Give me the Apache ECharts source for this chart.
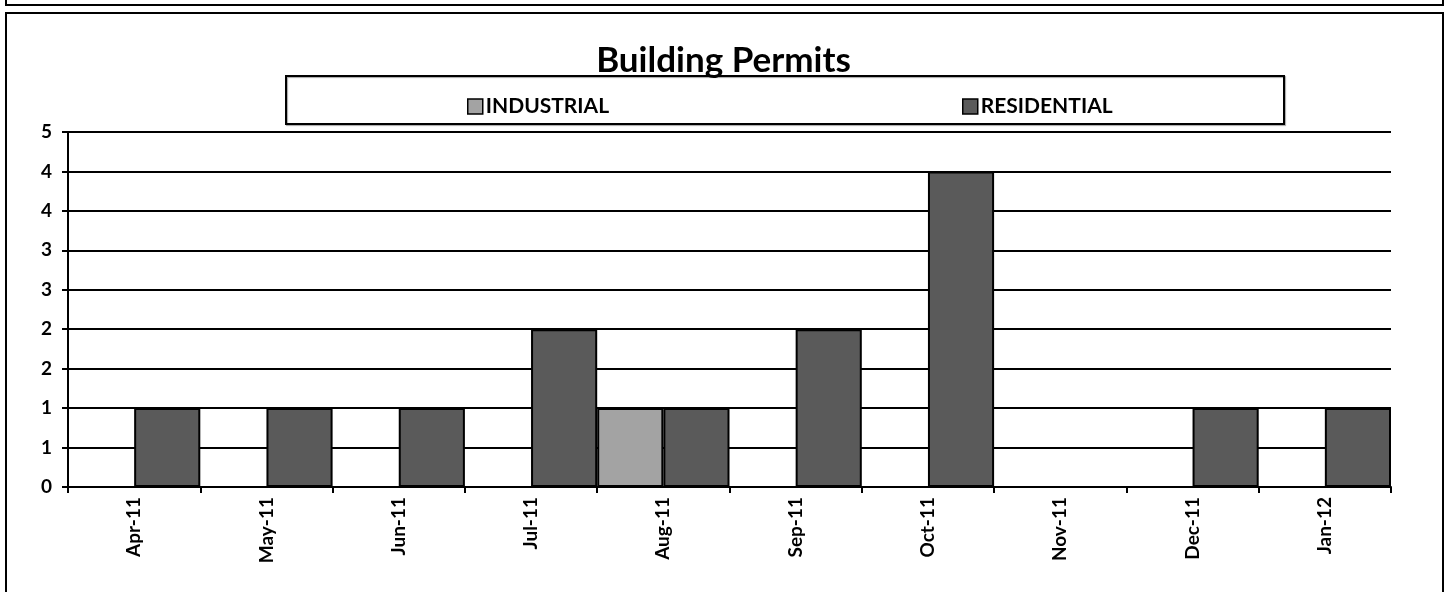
<!DOCTYPE html>
<html>
<head>
<meta charset="utf-8">
<script src="https://cdn.jsdelivr.net/npm/echarts@6/dist/echarts.min.js"></script>
<style>
html,body{margin:0;padding:0;background:#fff;}
#chart{width:1447px;height:592px;}
</style>
</head>
<body>
<div id="chart"></div>
<script>
const categories = ['Apr-11','May-11','Jun-11','Jul-11','Aug-11','Sep-11','Oct-11','Nov-11','Dec-11','Jan-12'];
const industrial = [0,0,0,0,1,0,0,0,0,0];
const residential = [1,1,1,2,1,2,4,0,1,1];
const yMin = 0, yMax = 4.5, yStep = 0.5;

const FONT = 'Lato';
const chart = echarts.init(document.getElementById('chart'), null, {renderer:'canvas'});
const legendCommon = {
  top: 91, itemWidth: 15, itemHeight: 15, itemGap: 0, icon: 'rect',
  itemStyle: {borderColor: '#000', borderWidth: 1.5},
  textStyle: {fontFamily: FONT, fontWeight: 'bold', fontSize: 21, color: '#000', padding: [0,0,0,-2]}
};
chart.setOption({
  backgroundColor: '#fff',
  animation: false,
  title: {
    text: 'Building Permits',
    left: 'center',
    top: 38,
    textStyle: {fontFamily: FONT, fontWeight: 'bold', fontSize: 35, color: '#000'}
  },
  legend: [
    Object.assign({data: ['INDUSTRIAL'], left: 462}, legendCommon),
    Object.assign({data: ['RESIDENTIAL'], left: 957}, legendCommon)
  ],
  graphic: [
    {type: 'rect', shape: {x: 6, y: -20, width: 1437, height: 25}, style: {fill: 'none', stroke: '#000', lineWidth: 2}, silent: true},
    {type: 'rect', shape: {x: 6, y: 13, width: 1437, height: 620}, style: {fill: 'none', stroke: '#000', lineWidth: 2}, silent: true, z: -1},
    {type: 'rect', shape: {x: 286, y: 76, width: 998, height: 48}, style: {fill: 'none', stroke: '#000', lineWidth: 2, shadowColor: 'rgba(0,0,0,0.35)', shadowOffsetX: 1, shadowOffsetY: 1, shadowBlur: 1}, silent: true}
  ],
  grid: {left: 68, right: 56, top: 132, bottom: 105, containLabel: false},
  xAxis: {
    type: 'category',
    data: categories,
    axisLine: {lineStyle: {color: '#000', width: 2}},
    axisTick: {show: true, length: 6, lineStyle: {color: '#000', width: 2}},
    axisLabel: {rotate: 90, interval: 0, margin: 10, fontFamily: FONT, fontWeight: 'bold', fontSize: 19, color: '#000'}
  },
  yAxis: {
    type: 'value',
    min: yMin, max: yMax, interval: yStep,
    axisLine: {show: true, lineStyle: {color: '#000', width: 2}},
    axisTick: {show: true, length: 6, lineStyle: {color: '#000', width: 2}},
    splitLine: {show: true, lineStyle: {color: '#000', width: 2}},
    axisLabel: {margin: 16, fontFamily: FONT, fontWeight: 'bold', fontSize: 19, color: '#000',
      formatter: v => String(Math.round(v))}
  },
  series: [
    {name: 'INDUSTRIAL', type: 'bar', data: industrial, barGap: '0%', barCategoryGap: '0%',
     itemStyle: {color: '#a3a3a3', borderColor: '#000', borderWidth: 2}},
    {name: 'RESIDENTIAL', type: 'bar', data: residential, barGap: '0%', barCategoryGap: '0%',
     itemStyle: {color: '#5a5a5a', borderColor: '#000', borderWidth: 2}}
  ]
});
</script>
</body>
</html>
